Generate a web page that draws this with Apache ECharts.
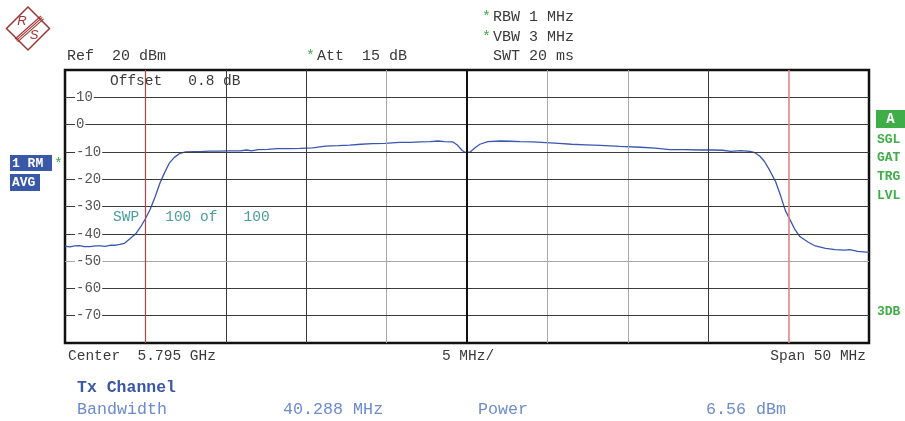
<!DOCTYPE html>
<html><head><meta charset="utf-8">
<script src="https://cdn.jsdelivr.net/npm/echarts@6/dist/echarts.min.js"></script>
<style>html,body{margin:0;padding:0;background:#fff}#c{width:905px;height:421px}</style>
</head><body><div id="c"></div>
<script>
// Frequency (MHz) and level (dBm) of the RM/AVG trace
const freqMHz = [5770.0,5770.3,5770.6,5770.9,5771.2,5771.55,5771.9,5772.2,5772.5,5772.8,5773.1,5773.4,5773.7,5774.0,5774.4,5774.7,5775.0,5775.3,5775.6,5775.9,5776.2,5776.5,5776.8,5777.15,5777.5,5778.0,5778.4,5779.0,5779.6,5780.2,5780.9,5781.3,5781.6,5782.0,5782.6,5783.2,5784.0,5784.6,5785.4,5786.2,5787.0,5787.7,5788.4,5789.1,5789.9,5790.8,5791.5,5792.1,5792.7,5793.2,5793.6,5794.1,5794.4,5794.7,5794.9,5795.2,5795.5,5795.8,5796.3,5797.1,5797.7,5798.3,5799.1,5799.9,5800.7,5801.5,5802.4,5803.3,5804.5,5805.8,5806.7,5807.6,5808.5,5809.5,5810.2,5810.9,5811.4,5812.0,5812.6,5812.9,5813.2,5813.5,5813.8,5814.2,5814.5,5814.8,5815.1,5815.4,5815.7,5816.2,5816.6,5817.3,5817.9,5818.5,5818.8,5819.3,5820.0];
const levelDbm = [-44.5,-44.8,-44.4,-44.3,-44.7,-44.7,-44.4,-44.4,-44.6,-44.2,-44.2,-43.9,-43.5,-42.0,-40.0,-37.5,-34.5,-31.0,-26.5,-21.5,-17.5,-14.0,-12.0,-10.5,-10.0,-9.9,-9.9,-9.7,-9.7,-9.6,-9.6,-9.3,-9.6,-9.2,-9.1,-8.8,-8.8,-8.7,-8.5,-7.9,-7.7,-7.5,-7.2,-7.0,-6.9,-6.5,-6.5,-6.3,-6.2,-6.0,-6.2,-6.3,-7.5,-9.5,-10.2,-10.0,-8.5,-7.2,-6.2,-6.0,-6.1,-6.2,-6.3,-6.6,-6.9,-7.2,-7.4,-7.6,-8.0,-8.3,-8.6,-9.2,-9.2,-9.3,-9.3,-9.4,-9.8,-9.5,-9.8,-10.3,-11.5,-13.5,-16.5,-21.0,-26.0,-31.5,-35.0,-38.5,-41.0,-43.0,-44.3,-45.3,-45.8,-46.0,-45.8,-46.4,-46.8];
const xTicks = [5770,5775,5780,5785,5790,5795,5800,5805,5810,5815,5820];
const yTicks = [20,10,0,-10,-20,-30,-40,-50,-60,-70,-80];
const channelEdges = [5775, 5815];
const centerFreq = 5795;

// styles (not data)
const darkGrid = '#3a3a3a', lightGrid = '#a8a8a8';
const lightXGrid = [5790, 5800, 5805];
const lightYGrid = [-50];
const mono = '"Liberation Mono", "DejaVu Sans Mono", monospace';

const chart = echarts.init(document.getElementById('c'), null, {renderer: 'canvas'});

const gridLines = [];
xTicks.slice(1, -1).forEach(v => {
  if (v === centerFreq || channelEdges.includes(v)) return;
  gridLines.push({xAxis: v, lineStyle: {color: lightXGrid.includes(v) ? lightGrid : darkGrid, width: 1, type: 'solid'}});
});
yTicks.slice(1, -1).forEach(v => {
  gridLines.push({yAxis: v, lineStyle: {color: lightYGrid.includes(v) ? lightGrid : darkGrid, width: 1, type: 'solid'}});
});

function txt(x, y, s, o) {
  return {type: 'text', x: x, y: y, silent: true, style: Object.assign({text: s, fill: '#3a3a3a', font: '15px ' + mono, textVerticalAlign: 'middle', textAlign: 'left'}, o || {})};
}

const green = '#3fae48', blueBox = '#3a58a8', logo = '#a03535';

const graphics = [
  // R&S logo
  {type: 'polygon', shape: {points: [[28,7],[49.5,28.5],[28,50],[6.5,28.5]]}, style: {fill: 'none', stroke: logo, lineWidth: 1.5}},
  {type: 'line', shape: {x1: 41, y1: 16, x2: 15, y2: 39}, style: {stroke: logo, lineWidth: 1.1}},
  {type: 'line', shape: {x1: 42.3, y1: 17.4, x2: 16.3, y2: 40.4}, style: {stroke: logo, lineWidth: 1.1}},
  {type: 'line', shape: {x1: 43.6, y1: 18.8, x2: 17.6, y2: 41.8}, style: {stroke: logo, lineWidth: 1.1}},
  txt(22, 21, 'R', {fill: logo, font: 'italic 13px "Liberation Sans", sans-serif', textAlign: 'center'}),
  txt(34, 35, 'S', {fill: logo, font: 'italic 13px "Liberation Sans", sans-serif', textAlign: 'center'}),
  // header
  txt(67, 56, 'Ref  20 dBm'),
  txt(306, 56, '*', {fill: green}),
  txt(317, 56, 'Att  15 dB'),
  txt(482, 17, '*', {fill: green}),
  txt(493, 17, 'RBW 1 MHz'),
  txt(482, 37, '*', {fill: green}),
  txt(493, 37, 'VBW 3 MHz'),
  txt(493, 56, 'SWT 20 ms'),
  // inside plot
  txt(110, 81, 'Offset   0.8 dB', {font: '14.5px ' + mono}),
  txt(113, 217, 'SWP   100 of   100', {fill: '#4a9e9e', font: '14.5px ' + mono}),
  // left boxes
  {type: 'rect', shape: {x: 10, y: 155, width: 42, height: 16}, style: {fill: blueBox}},
  txt(12, 163.5, '1 RM', {fill: '#fff', font: 'bold 13px ' + mono}),
  txt(54, 164, '*', {fill: green}),
  {type: 'rect', shape: {x: 10, y: 174, width: 30, height: 17}, style: {fill: blueBox}},
  txt(12, 183, 'AVG', {fill: '#fff', font: 'bold 13px ' + mono}),
  // right side
  {type: 'rect', shape: {x: 876, y: 110, width: 29, height: 18}, style: {fill: green}},
  txt(890.5, 119.5, 'A', {fill: '#fff', font: 'bold 14px ' + mono, textAlign: 'center'}),
  txt(877, 140, 'SGL', {fill: green, font: 'bold 13px ' + mono}),
  txt(877, 158, 'GAT', {fill: green, font: 'bold 13px ' + mono}),
  txt(877, 177, 'TRG', {fill: green, font: 'bold 13px ' + mono}),
  txt(877, 196, 'LVL', {fill: green, font: 'bold 13px ' + mono}),
  txt(877, 312, '3DB', {fill: green, font: 'bold 13px ' + mono}),
  // bottom
  txt(68, 356, 'Center  5.795 GHz', {font: '14.5px ' + mono}),
  txt(468, 356, '5 MHz/', {textAlign: 'center', font: '14.5px ' + mono}),
  txt(866, 356, 'Span 50 MHz', {textAlign: 'right', font: '14.5px ' + mono}),
  txt(77, 388, 'Tx Channel', {fill: '#3a56a6', font: 'bold 16.5px ' + mono}),
  txt(77, 410, 'Bandwidth', {fill: '#6d8ccc', font: '16.7px ' + mono}),
  txt(283, 410, '40.288 MHz', {fill: '#6d8ccc', font: '16.7px ' + mono}),
  txt(478, 410, 'Power', {fill: '#6d8ccc', font: '16.7px ' + mono}),
  txt(706, 410, '6.56 dBm', {fill: '#6d8ccc', font: '16.7px ' + mono})
];

chart.setOption({
  animation: false,
  backgroundColor: '#fff',
  grid: {left: 65, right: 36, top: 70, bottom: 78, show: true, borderColor: '#111', borderWidth: 2.5, backgroundColor: 'transparent'},
  xAxis: {type: 'value', min: xTicks[0], max: xTicks[xTicks.length - 1], interval: 5,
    axisLine: {show: false}, axisTick: {show: false}, axisLabel: {show: false}, splitLine: {show: false}},
  yAxis: {type: 'value', min: yTicks[yTicks.length - 1], max: yTicks[0], interval: 10, z: 10,
    axisLine: {show: false}, axisTick: {show: false}, splitLine: {show: false},
    axisLabel: {inside: true, margin: 10, showMinLabel: false, showMaxLabel: false,
      fontFamily: mono, fontSize: 14, color: '#555', backgroundColor: '#fff', padding: [0, 1, 0, 1]}},
  graphic: graphics,
  series: [
    {type: 'line', data: [], z: 1, silent: true,
      markLine: {silent: true, symbol: 'none', label: {show: false}, animation: false, data: gridLines}},
    {type: 'line', data: [], z: 2, silent: true,
      markLine: {silent: true, symbol: 'none', label: {show: false}, animation: false, data: [
        {xAxis: centerFreq, lineStyle: {color: '#111', width: 2, type: 'solid'}},
        {xAxis: channelEdges[0], lineStyle: {color: '#b04545', width: 1.2, type: 'solid'}},
        {xAxis: channelEdges[1], lineStyle: {color: '#e08585', width: 1.6, type: 'solid'}}
      ]}},
    {type: 'line', z: 3, showSymbol: false, silent: true,
      data: freqMHz.map((f, i) => [f, levelDbm[i]]),
      lineStyle: {color: '#3a56b0', width: 1.3}, itemStyle: {color: '#3a56b0'}}
  ]
});
</script></body></html>
